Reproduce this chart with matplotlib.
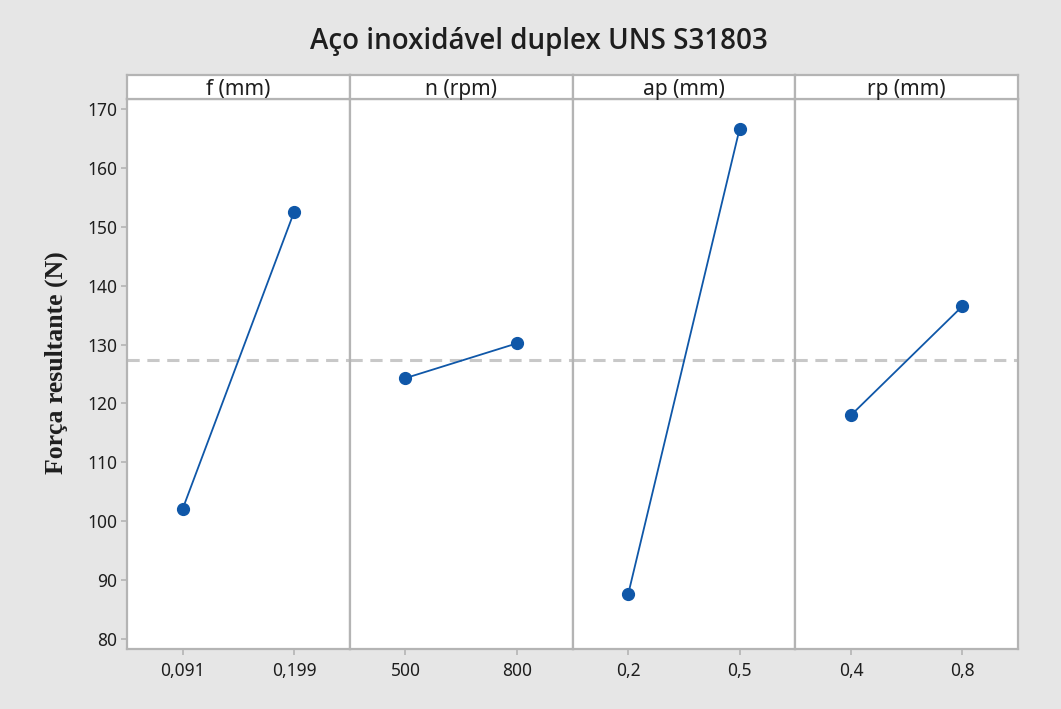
import matplotlib.pyplot as plt
import numpy as np

# main effects for resultant force, one panel per factor
factors = ["f (mm)", "n (rpm)", "ap (mm)", "rp (mm)"]
level_labels = [["0,091", "0,199"], ["500", "800"], ["0,2", "0,5"], ["0,4", "0,8"]]
f_means = [102.1, 152.5]
n_means = [124.3, 130.2]
ap_means = [87.6, 166.6]
rp_means = [118.0, 136.5]
grand_mean = 127.3
yticks = [80, 90, 100, 110, 120, 130, 140, 150, 160, 170]

all_means = [f_means, n_means, ap_means, rp_means]

W, H = 1061, 709
bg = "#e6e6e6"
edge = "#b4b4b4"
blue = "#0f57a8"
txt = "#1e1e1e"

plt.rcParams['font.family'] = ['Noto Sans', 'DejaVu Sans']

fig = plt.figure(figsize=(W / 100, H / 100), dpi=100, facecolor=bg)

left, right = 127, 1018
head_top, head_bot, bottom = 75, 99, 649
pw = (right - left) / 4

for i, (name, labels, vals) in enumerate(zip(factors, level_labels, all_means)):
    x0 = left + i * pw
    ax = fig.add_axes([x0 / W, 1 - bottom / H, pw / W, (bottom - head_bot) / H])
    ax.set_facecolor("white")
    ax.axhline(grand_mean, color="#c8c8c8", lw=2.2, ls=(0, (4, 2.5)), zorder=1)
    ax.plot([0, 1], vals, color=blue, lw=1.3, marker="o", ms=8.5,
            markerfacecolor=blue, markeredgecolor=blue, zorder=3)
    ax.set_xlim(-0.5, 1.5)
    ax.set_ylim(78.3, 171.7)
    ax.set_xticks([0, 1])
    ax.set_xticklabels(labels)
    ax.set_yticks(yticks)
    for s in ax.spines.values():
        s.set_color(edge)
        s.set_linewidth(1.6)
    ax.tick_params(axis="both", colors=edge, labelcolor=txt,
                   labelsize=12.5, length=4, width=1.2)
    ax.tick_params(axis="x", pad=5)
    ax.tick_params(axis="y", pad=3)
    if i > 0:
        ax.tick_params(axis="y", left=False, labelleft=False)
    else:
        ax.set_ylabel("Força resultante (N)", family=["Liberation Serif"],
                      fontweight="bold", fontsize=18.5, color=txt)
        ax.yaxis.set_label_coords(-0.265, 0.52)

    # factor header strip
    hx = fig.add_axes([x0 / W, 1 - head_bot / H, pw / W, (head_bot - head_top) / H])
    hx.set_facecolor("white")
    hx.set_xticks([])
    hx.set_yticks([])
    for s in hx.spines.values():
        s.set_color(edge)
        s.set_linewidth(1.6)
    hx.text(0.5, 0.38, name, ha="center", va="center", fontsize=15,
            color=txt, transform=hx.transAxes)

fig.text(539 / W, 1 - 41 / H, "Aço inoxidável duplex UNS S31803", ha="center",
         va="center", fontsize=20, fontweight="semibold", color=txt,
         family=["Open Sans", "Lato", "DejaVu Sans"])

fig.savefig("out.png", dpi=100, facecolor=bg)
